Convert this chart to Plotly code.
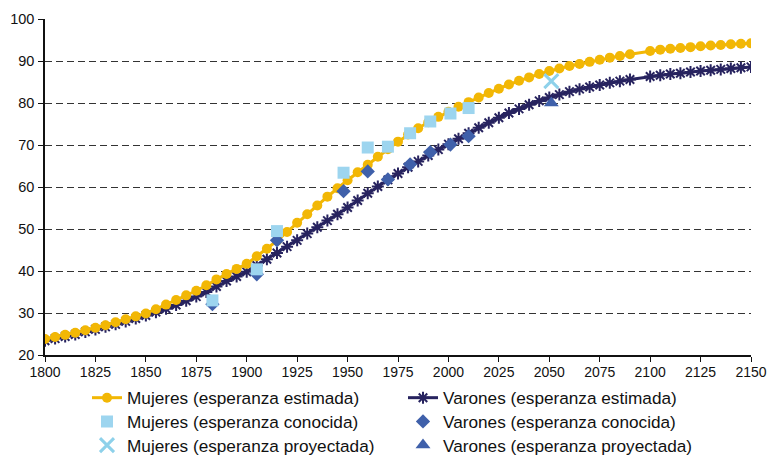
import plotly.graph_objects as go

# ---- data ----
years_est = [1800, 1805, 1810, 1815, 1820, 1825, 1830, 1835, 1840, 1845,
             1850, 1855, 1860, 1865, 1870, 1875, 1880, 1885, 1890, 1895,
             1900, 1905, 1910, 1915, 1920, 1925, 1930, 1935, 1940, 1945,
             1950, 1955, 1960, 1965, 1970, 1975, 1980, 1985, 1990, 1995,
             2000, 2005, 2010, 2015, 2020, 2025, 2030, 2035, 2040, 2045,
             2050, 2055, 2060, 2065, 2070, 2075, 2080, 2085, 2090,
             2100, 2105, 2110, 2115, 2120, 2125, 2130, 2135, 2140, 2145, 2150]

mujeres_est = [23.8, 24.3, 24.8, 25.3, 25.9, 26.5, 27.1, 27.8, 28.5, 29.2,
               29.9, 30.9, 32.0, 33.1, 34.2, 35.3, 36.6, 38.0, 39.3, 40.5,
               41.7, 43.5, 45.3, 47.2, 49.3, 51.5, 53.5, 55.6, 57.7, 59.7,
               61.6, 63.5, 65.3, 67.2, 69.0, 70.8, 72.5, 74.0, 75.4, 76.7,
               77.9, 79.1, 80.2, 81.3, 82.4, 83.4, 84.4, 85.3, 86.1, 86.9,
               87.6, 88.2, 88.8, 89.3, 89.8, 90.3, 90.8, 91.2, 91.6,
               92.4, 92.7, 92.9, 93.1, 93.3, 93.5, 93.7, 93.8, 94.0, 94.1, 94.2]

varones_est = [23.4, 23.9, 24.4, 24.9, 25.5, 26.1, 26.7, 27.3, 28.0, 28.7,
               29.4, 30.2, 31.0, 31.9, 32.9, 33.9, 35.0, 36.3, 37.6, 38.7,
               39.8, 41.3, 42.8, 44.3, 45.8, 47.3, 48.9, 50.4, 52.0, 53.5,
               55.1, 56.8, 58.5, 60.1, 61.7, 63.2, 64.7, 66.1, 67.5, 68.9,
               70.2, 71.5, 72.8, 74.1, 75.3, 76.5, 77.6, 78.6, 79.6, 80.5,
               81.3, 82.0, 82.7, 83.3, 83.8, 84.3, 84.8, 85.2, 85.6,
               86.3, 86.6, 86.9, 87.1, 87.4, 87.6, 87.8, 88.0, 88.2, 88.4, 88.6]

years_known = [1883, 1905, 1915, 1948, 1960, 1970, 1981, 1991, 2001, 2010]
mujeres_known = [33.0, 40.4, 49.5, 63.4, 69.4, 69.6, 72.8, 75.6, 77.5, 78.8]
varones_known = [32.1, 39.2, 47.3, 59.0, 63.7, 61.8, 65.4, 68.3, 70.1, 72.1]

years_proj = [2051]
mujeres_proj = [85.2]
varones_proj = [80.0]

x_ticks = [1800, 1825, 1850, 1875, 1900, 1925, 1950, 1975, 2000, 2025,
           2050, 2075, 2100, 2125, 2150]
y_ticks = [20, 30, 40, 50, 60, 70, 80, 90, 100]

YELLOW = "#F2B705"
NAVY = "#27235F"
LIGHTBLUE = "#9DD5EF"
XBLUE = "#8ED1EA"
MIDBLUE = "#3F60AA"

W, H = 768, 455
# plot area in pixels
PL, PR, PT, PB = 45, 751, 19, 355
PW, PH = PR - PL, PB - PT
ROWS = [398, 421.7, 445.4]
COL_X = [87, 403]


def leg_pos(col, row):
    return dict(
        x=(COL_X[col] - PL) / PW, y=(PB - ROWS[row]) / PH,
        orientation="v", xref="paper", yref="paper",
        yanchor="middle", xanchor="left",
        font=dict(family="Liberation Sans, Arial, sans-serif", size=17.2, color="#111"),
        bgcolor="rgba(0,0,0,0)", itemclick=False, itemdoubleclick=False,
    )


fig = go.Figure()

fig.add_trace(go.Scatter(
    x=years_est, y=varones_est, mode="lines+markers",
    name="Varones (esperanza estimada)", legend="legend2",
    line=dict(color=NAVY, width=3),
    marker=dict(symbol="asterisk-open", size=10, color=NAVY,
                line=dict(color=NAVY, width=2))))
fig.add_trace(go.Scatter(
    x=years_est, y=mujeres_est, mode="lines+markers",
    name="Mujeres (esperanza estimada)", legend="legend",
    line=dict(color=YELLOW, width=3),
    marker=dict(symbol="circle", size=10, color=YELLOW)))
fig.add_trace(go.Scatter(
    x=years_known, y=varones_known, mode="markers",
    name="Varones (esperanza conocida)", legend="legend4",
    marker=dict(symbol="diamond", size=11, color=MIDBLUE)))
fig.add_trace(go.Scatter(
    x=years_known, y=mujeres_known, mode="markers",
    name="Mujeres (esperanza conocida)", legend="legend3",
    marker=dict(symbol="square", size=12, color=LIGHTBLUE)))
fig.add_trace(go.Scatter(
    x=years_proj, y=varones_proj, mode="markers",
    name="Varones (esperanza proyectada)", legend="legend6",
    marker=dict(symbol="triangle-up", size=13, color=MIDBLUE)))
fig.add_trace(go.Scatter(
    x=years_proj, y=mujeres_proj, mode="markers",
    name="Mujeres (esperanza proyectada)", legend="legend5",
    marker=dict(symbol="x-thin-open", size=14, color=XBLUE,
                line=dict(color=XBLUE, width=3))))

fig.update_layout(
    width=W, height=H,
    margin=dict(l=PL, r=W - PR, t=PT, b=H - PB, autoexpand=False),
    paper_bgcolor="white", plot_bgcolor="white",
    font=dict(family="Liberation Sans, Arial, sans-serif", size=14, color="#111"),
    showlegend=True,
    legend=leg_pos(0, 0), legend2=leg_pos(1, 0),
    legend3=leg_pos(0, 1), legend4=leg_pos(1, 1),
    legend5=leg_pos(0, 2), legend6=leg_pos(1, 2),
    xaxis=dict(
        range=[1800, 2150], tickvals=x_ticks, ticktext=[str(v) for v in x_ticks],
        showgrid=False, zeroline=False, showline=True, linecolor="#111",
        linewidth=1.5, ticks="outside", ticklen=5, tickcolor="#111",
        tickfont=dict(size=14), ticklabeloverflow="allow",
        ticklabelstandoff=-2, fixedrange=True,
    ),
    yaxis=dict(
        range=[20, 100], tickvals=y_ticks, ticktext=[str(v) for v in y_ticks],
        showgrid=True, gridcolor="#333", gridwidth=1, griddash="7px,4px",
        zeroline=False, showline=True, linecolor="#111", linewidth=1.5,
        ticks="outside", ticklen=5, tickcolor="#111",
        tickfont=dict(size=14.5), ticklabeloverflow="allow",
        ticklabelstandoff=1, fixedrange=True,
    ),
)

fig.write_html(
    "out.html",
    config={"displayModeBar": False},
    post_script="document.body.style.margin='0';document.body.style.overflow='hidden';",
)
